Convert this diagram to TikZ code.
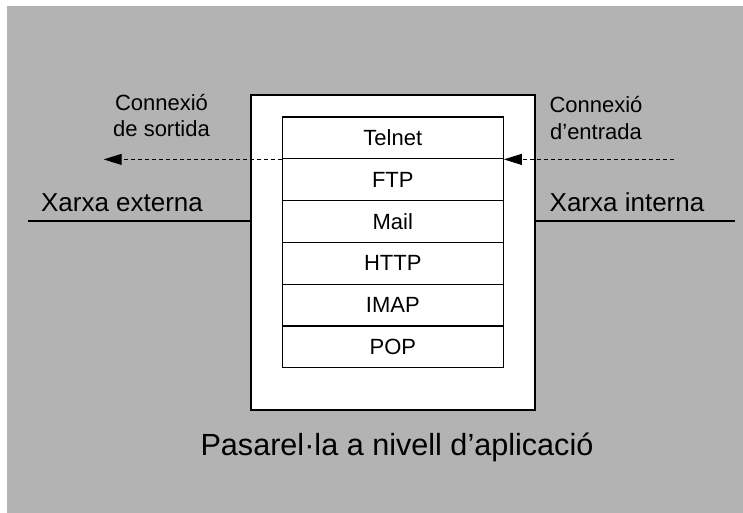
\documentclass[tikz,border=0pt]{standalone}
\usepackage{fontspec}
\setmainfont{Liberation Sans}
\usepackage{xcolor}
\usetikzlibrary{arrows.meta,positioning}
\definecolor{bgray}{HTML}{B3B3B3}
\tikzset{
  backdrop/.style={fill=bgray, draw=none},
  gwbox/.style={draw, line width=1.5pt, fill=white, minimum width=284pt, minimum height=315pt},
  svc/.style={draw, line width=1.2pt, fill=white, inner sep=0pt, minimum width=221pt, minimum height=41.8pt, font=\fontsize{22}{26}\selectfont},
  net/.style={line width=1.5pt},
  conn/.style={dash pattern=on 4pt off 3pt, line width=1pt, -{Triangle[length=18pt,width=11pt]}},
  netlab/.style={font=\fontsize{26}{30}\selectfont, anchor=base},
  connlab/.style={font=\fontsize{22}{26.5}\selectfont, align=center, anchor=base},
  mainlab/.style={font=\fontsize{30.6}{34}\selectfont, anchor=base}
}

\begin{document}
\begin{tikzpicture}[x=1pt,y=-1pt]
\useasboundingbox (0,0) rectangle (743,513);
\fill[backdrop] (7,6) rectangle (743,513);

% gateway box
\node[gwbox] (gw) at (393,252.5) {};
\node[mainlab] (gwlab) at (397,455) {Pasarel·la a nivell d’aplicació};

% application services
\foreach \lab [count=\i] in {Telnet,FTP,Mail,HTTP,IMAP,POP}{
  \node[svc] (svc\i) at (392.8,{117+41.8*(\i-0.5)}) {\lab};
}

% networks on both sides
\coordinate (extEnd) at (28,221);
\coordinate (intEnd) at (735,221);
\draw[net] (extEnd) -- (extEnd -| gw.west);
\draw[net] (gw.east |- intEnd) -- (intEnd);
\node[netlab] (extlab) at (122,211.7) {Xarxa externa};
\node[netlab] (intlab) at (627,211.7) {Xarxa interna};

% connections
\coordinate (outEnd) at ([xshift=-178pt]svc1.south west);
\coordinate (inStart) at ([xshift=170pt]svc1.south east);
\draw[conn] (svc1.south west) -- (outEnd);
\draw[conn] (inStart) -- (svc1.south east);
\node[connlab] (outlab) at (161.5,136.7) {Connexió\\de sortida};
\node[connlab] (inlab) at (596,139.3) {Connexió\\d’entrada};
\end{tikzpicture}
\end{document}
